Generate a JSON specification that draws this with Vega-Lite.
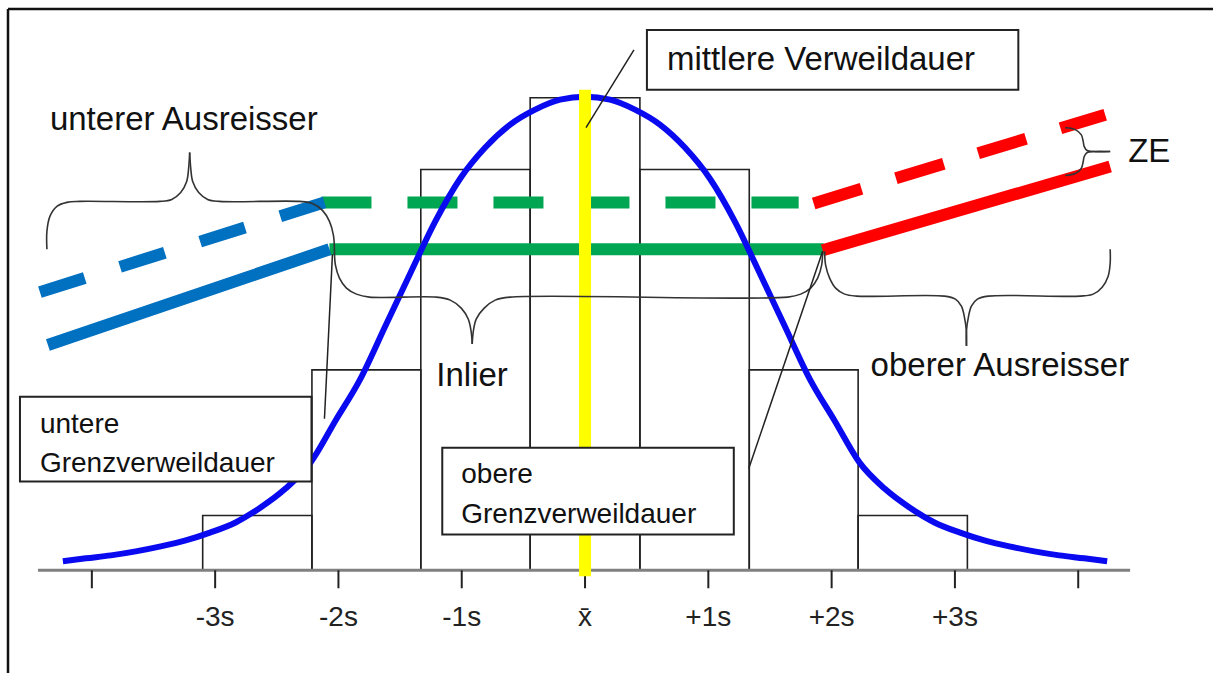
{
  "$schema": "https://vega.github.io/schema/vega-lite/v6.json",
  "width": 1215,
  "height": 675,
  "autosize": {"type": "fit", "contains": "padding"},
  "padding": 0,
  "background": "white",
  "config": {"view": {"stroke": null}},
  "datasets": {
    "frame": [
      {"u": -4.680, "h": 563, "u2": -4.680, "h2": -103},
      {"u": -4.680, "h": 563, "u2": 5.0931, "h2": 563}
    ],
    "bars": [
      {"u": -3.101, "u2": -2.215, "h": 0, "h2": 55},
      {"u": -2.215, "u2": -1.332, "h": 0, "h2": 201},
      {"u": -1.332, "u2": -0.445, "h": 0, "h2": 402},
      {"u": -0.445, "u2": 0.445, "h": 0, "h2": 474},
      {"u": 0.445, "u2": 1.332, "h": 0, "h2": 402},
      {"u": 1.332, "u2": 2.215, "h": 0, "h2": 201},
      {"u": 2.215, "u2": 3.101, "h": 0, "h2": 55}
    ],
    "axisline": [{"u": -4.437, "h": 0, "u2": 4.421, "h2": 0}],
    "ticks": [
      {"u": -4, "h": 0, "u2": -4, "h2": -18},
      {"u": -3, "h": 0, "u2": -3, "h2": -18},
      {"u": -2, "h": 0, "u2": -2, "h2": -18},
      {"u": -1, "h": 0, "u2": -1, "h2": -18},
      {"u": 0, "h": 0, "u2": 0, "h2": -18},
      {"u": 1, "h": 0, "u2": 1, "h2": -18},
      {"u": 2, "h": 0, "u2": 2, "h2": -18},
      {"u": 3, "h": 0, "u2": 3, "h2": -18},
      {"u": 4, "h": 0, "u2": 4, "h2": -18}
    ],
    "ticklabels": [
      {"u": -3, "h": -56, "label": "-3s"},
      {"u": -2, "h": -56, "label": "-2s"},
      {"u": -1, "h": -56, "label": "-1s"},
      {"u": 0, "h": -56, "label": "x̄"},
      {"u": 1, "h": -56, "label": "+1s"},
      {"u": 2, "h": -56, "label": "+2s"},
      {"u": 3, "h": -56, "label": "+3s"}
    ],
    "greenSolid": [{"u": -2.0729, "h": 322, "u2": 1.9352, "h2": 322}],
    "greenDashed": [{"u": -2.1377, "h": 369, "u2": 1.7328, "h2": 369}],
    "curve": [
      {"u": -4.2348, "h": 9}, {"u": -4.0486, "h": 12}, {"u": -3.8462, "h": 15}, {"u": -3.6437, "h": 19},
      {"u": -3.4413, "h": 24}, {"u": -3.2389, "h": 30}, {"u": -3.0364, "h": 38}, {"u": -2.8340, "h": 48},
      {"u": -2.6316, "h": 63}, {"u": -2.4291, "h": 82}, {"u": -2.2267, "h": 108}, {"u": -2.0243, "h": 150},
      {"u": -1.8219, "h": 192}, {"u": -1.6194, "h": 245}, {"u": -1.4170, "h": 298}, {"u": -1.2146, "h": 350},
      {"u": -1.0121, "h": 393}, {"u": -0.8097, "h": 424}, {"u": -0.6073, "h": 447}, {"u": -0.4049, "h": 462},
      {"u": -0.2024, "h": 472}, {"u": 0, "h": 475},
      {"u": 0.2024, "h": 472}, {"u": 0.4049, "h": 462}, {"u": 0.6073, "h": 447}, {"u": 0.8097, "h": 424},
      {"u": 1.0121, "h": 393}, {"u": 1.2146, "h": 350}, {"u": 1.4170, "h": 298}, {"u": 1.6194, "h": 245},
      {"u": 1.8219, "h": 192}, {"u": 2.0243, "h": 150}, {"u": 2.2267, "h": 108}, {"u": 2.4291, "h": 82},
      {"u": 2.6316, "h": 63}, {"u": 2.8340, "h": 48}, {"u": 3.0364, "h": 38}, {"u": 3.2389, "h": 30},
      {"u": 3.4413, "h": 24}, {"u": 3.6437, "h": 19}, {"u": 3.8462, "h": 15}, {"u": 4.0486, "h": 12},
      {"u": 4.2348, "h": 9}
    ],
    "yellow": [{"u": 0, "h": 482, "u2": 0, "h2": -6}],
    "blueSolid": [{"u": -4.3563, "h": 226, "u2": -2.0729, "h2": 322}],
    "blueDashed": [{"u": -4.4211, "h": 279, "u2": -2.1134, "h2": 369}],
    "redSolid": [{"u": 1.9271, "h": 321, "u2": 4.2591, "h2": 405}],
    "redDashed": [{"u": 1.8543, "h": 368, "u2": 4.2186, "h2": 457}],
    "braces": [
      {"id": "b1L", "i": 0, "u": -4.3644, "h": 322}, {"id": "b1L", "i": 1, "u": -4.3644, "h": 340},
      {"id": "b1L", "i": 2, "u": -4.3401, "h": 355}, {"id": "b1L", "i": 3, "u": -4.2834, "h": 365},
      {"id": "b1L", "i": 4, "u": -4.2024, "h": 369}, {"id": "b1L", "i": 5, "u": -4.0972, "h": 370},
      {"id": "b1L", "i": 6, "u": -3.4494, "h": 370}, {"id": "b1L", "i": 7, "u": -3.3522, "h": 372},
      {"id": "b1L", "i": 8, "u": -3.2794, "h": 379}, {"id": "b1L", "i": 9, "u": -3.2308, "h": 390},
      {"id": "b1L", "i": 10, "u": -3.2146, "h": 404}, {"id": "b1L", "i": 11, "u": -3.2065, "h": 419},
      {"id": "b1R", "i": 0, "u": -2.0324, "h": 320}, {"id": "b1R", "i": 1, "u": -2.0405, "h": 336},
      {"id": "b1R", "i": 2, "u": -2.0729, "h": 350}, {"id": "b1R", "i": 3, "u": -2.1296, "h": 361},
      {"id": "b1R", "i": 4, "u": -2.2105, "h": 368}, {"id": "b1R", "i": 5, "u": -2.3158, "h": 370},
      {"id": "b1R", "i": 6, "u": -2.9636, "h": 370}, {"id": "b1R", "i": 7, "u": -3.0607, "h": 372},
      {"id": "b1R", "i": 8, "u": -3.1336, "h": 379}, {"id": "b1R", "i": 9, "u": -3.1822, "h": 390},
      {"id": "b1R", "i": 10, "u": -3.1984, "h": 404}, {"id": "b1R", "i": 11, "u": -3.2065, "h": 419},
      {"id": "b2L", "i": 0, "u": -2.0324, "h": 320}, {"id": "b2L", "i": 1, "u": -2.0243, "h": 306},
      {"id": "b2L", "i": 2, "u": -1.9919, "h": 293}, {"id": "b2L", "i": 3, "u": -1.9352, "h": 283},
      {"id": "b2L", "i": 4, "u": -1.8543, "h": 277}, {"id": "b2L", "i": 5, "u": -1.7490, "h": 274},
      {"id": "b2L", "i": 6, "u": -1.2065, "h": 274}, {"id": "b2L", "i": 7, "u": -1.0931, "h": 271},
      {"id": "b2L", "i": 8, "u": -1.0040, "h": 263}, {"id": "b2L", "i": 9, "u": -0.9474, "h": 252},
      {"id": "b2L", "i": 10, "u": -0.9231, "h": 239}, {"id": "b2L", "i": 11, "u": -0.9150, "h": 227},
      {"id": "b2R", "i": 0, "u": 1.9271, "h": 320}, {"id": "b2R", "i": 1, "u": 1.9190, "h": 306},
      {"id": "b2R", "i": 2, "u": 1.8866, "h": 293}, {"id": "b2R", "i": 3, "u": 1.8300, "h": 283},
      {"id": "b2R", "i": 4, "u": 1.7490, "h": 277}, {"id": "b2R", "i": 5, "u": 1.6437, "h": 274},
      {"id": "b2R", "i": 6, "u": -0.6073, "h": 274}, {"id": "b2R", "i": 7, "u": -0.7287, "h": 271},
      {"id": "b2R", "i": 8, "u": -0.8178, "h": 263}, {"id": "b2R", "i": 9, "u": -0.8826, "h": 252},
      {"id": "b2R", "i": 10, "u": -0.9069, "h": 239}, {"id": "b2R", "i": 11, "u": -0.9150, "h": 227},
      {"id": "b3L", "i": 0, "u": 1.9433, "h": 320}, {"id": "b3L", "i": 1, "u": 1.9514, "h": 306},
      {"id": "b3L", "i": 2, "u": 1.9838, "h": 293}, {"id": "b3L", "i": 3, "u": 2.0324, "h": 283},
      {"id": "b3L", "i": 4, "u": 2.1053, "h": 277}, {"id": "b3L", "i": 5, "u": 2.2024, "h": 275},
      {"id": "b3L", "i": 6, "u": 2.9150, "h": 275}, {"id": "b3L", "i": 7, "u": 3.0040, "h": 272},
      {"id": "b3L", "i": 8, "u": 3.0526, "h": 265}, {"id": "b3L", "i": 9, "u": 3.0769, "h": 254},
      {"id": "b3L", "i": 10, "u": 3.0931, "h": 240}, {"id": "b3L", "i": 11, "u": 3.0935, "h": 225},
      {"id": "b3R", "i": 0, "u": 4.2591, "h": 322}, {"id": "b3R", "i": 1, "u": 4.2591, "h": 308},
      {"id": "b3R", "i": 2, "u": 4.2429, "h": 295}, {"id": "b3R", "i": 3, "u": 4.1943, "h": 284},
      {"id": "b3R", "i": 4, "u": 4.1215, "h": 277}, {"id": "b3R", "i": 5, "u": 4.0162, "h": 275},
      {"id": "b3R", "i": 6, "u": 3.2713, "h": 275}, {"id": "b3R", "i": 7, "u": 3.1822, "h": 272},
      {"id": "b3R", "i": 8, "u": 3.1336, "h": 265}, {"id": "b3R", "i": 9, "u": 3.1093, "h": 254},
      {"id": "b3R", "i": 10, "u": 3.0931, "h": 240}, {"id": "b3R", "i": 11, "u": 3.0935, "h": 225},
      {"id": "zeT", "i": 0, "u": 3.8947, "h": 444}, {"id": "zeT", "i": 1, "u": 3.9757, "h": 442},
      {"id": "zeT", "i": 2, "u": 4.0243, "h": 437}, {"id": "zeT", "i": 3, "u": 4.0405, "h": 430},
      {"id": "zeT", "i": 4, "u": 4.0486, "h": 425}, {"id": "zeT", "i": 5, "u": 4.0729, "h": 421},
      {"id": "zeT", "i": 6, "u": 4.1215, "h": 420}, {"id": "zeT", "i": 7, "u": 4.2591, "h": 420},
      {"id": "zeB", "i": 0, "u": 3.8947, "h": 396}, {"id": "zeB", "i": 1, "u": 3.9757, "h": 398},
      {"id": "zeB", "i": 2, "u": 4.0243, "h": 403}, {"id": "zeB", "i": 3, "u": 4.0405, "h": 410},
      {"id": "zeB", "i": 4, "u": 4.0486, "h": 415}, {"id": "zeB", "i": 5, "u": 4.0729, "h": 419},
      {"id": "zeB", "i": 6, "u": 4.1215, "h": 420}, {"id": "zeB", "i": 7, "u": 4.2591, "h": 420}
    ],
    "boxes": [
      {"u": 0.5020, "u2": 3.5142, "h": 542, "h2": 482},
      {"u": -4.5830, "u2": -2.2186, "h": 174, "h2": 89},
      {"u": -1.1579, "u2": 1.2065, "h": 123, "h2": 36}
    ],
    "callouts": [
      {"u": 0.3968, "h": 522, "u2": 0.0081, "h2": 444},
      {"u": -2.1134, "h": 152, "u2": -2.0486, "h2": 317},
      {"u": 1.3279, "h": 102, "u2": 1.9271, "h2": 320}
    ],
    "bigText": [
      {"u": -4.3401, "h": 442, "label": "unterer Ausreisser"},
      {"u": 0.6640, "h": 502, "label": "mittlere Verweildauer"},
      {"u": 4.4049, "h": 410, "label": "ZE"},
      {"u": -1.2065, "h": 185, "label": "Inlier"},
      {"u": 2.3158, "h": 195, "label": "oberer Ausreisser"}
    ],
    "boxText": [
      {"u": -4.4211, "h": 138, "label": "untere"},
      {"u": -4.4211, "h": 99, "label": "Grenzverweildauer"},
      {"u": -1.0040, "h": 88, "label": "obere"},
      {"u": -1.0040, "h": 47, "label": "Grenzverweildauer"}
    ]
  },
  "encoding": {
    "x": {"field": "u", "type": "quantitative", "scale": {"domain": [-4.7449, 5.0931], "nice": false, "zero": false}, "axis": null},
    "y": {"field": "h", "type": "quantitative", "scale": {"domain": [-103, 572], "nice": false, "zero": false}, "axis": null}
  },
  "layer": [
    {"data": {"name": "frame"}, "mark": {"type": "rule", "color": "#111111", "strokeWidth": 2.5}, "encoding": {"x2": {"field": "u2"}, "y2": {"field": "h2"}}},
    {"data": {"name": "bars"}, "mark": {"type": "rect", "filled": false, "color": "#222222", "strokeWidth": 1.6}, "encoding": {"x2": {"field": "u2"}, "y2": {"field": "h2"}}},
    {"data": {"name": "axisline"}, "mark": {"type": "rule", "color": "#808080", "strokeWidth": 3}, "encoding": {"x2": {"field": "u2"}, "y2": {"field": "h2"}}},
    {"data": {"name": "ticks"}, "mark": {"type": "rule", "color": "#222222", "strokeWidth": 2}, "encoding": {"x2": {"field": "u2"}, "y2": {"field": "h2"}}},
    {"data": {"name": "greenDashed"}, "mark": {"type": "rule", "color": "#00a651", "strokeWidth": 12, "strokeDash": [50, 36]}, "encoding": {"x2": {"field": "u2"}, "y2": {"field": "h2"}}},
    {"data": {"name": "greenSolid"}, "mark": {"type": "rule", "color": "#00a651", "strokeWidth": 12}, "encoding": {"x2": {"field": "u2"}, "y2": {"field": "h2"}}},
    {"data": {"name": "curve"}, "mark": {"type": "line", "interpolate": "monotone", "color": "#0a0af0", "strokeWidth": 6}, "encoding": {}},
    {"data": {"name": "yellow"}, "mark": {"type": "rule", "color": "#ffff00", "strokeWidth": 12}, "encoding": {"x2": {"field": "u2"}, "y2": {"field": "h2"}}},
    {"data": {"name": "blueDashed"}, "mark": {"type": "rule", "color": "#0070c0", "strokeWidth": 12, "strokeDash": [47, 37]}, "encoding": {"x2": {"field": "u2"}, "y2": {"field": "h2"}}},
    {"data": {"name": "blueSolid"}, "mark": {"type": "rule", "color": "#0070c0", "strokeWidth": 12}, "encoding": {"x2": {"field": "u2"}, "y2": {"field": "h2"}}},
    {"data": {"name": "redDashed"}, "mark": {"type": "rule", "color": "#ff0000", "strokeWidth": 12, "strokeDash": [50, 36]}, "encoding": {"x2": {"field": "u2"}, "y2": {"field": "h2"}}},
    {"data": {"name": "redSolid"}, "mark": {"type": "rule", "color": "#ff0000", "strokeWidth": 12}, "encoding": {"x2": {"field": "u2"}, "y2": {"field": "h2"}}},
    {"data": {"name": "braces"}, "mark": {"type": "line", "interpolate": "catmull-rom", "color": "#333333", "strokeWidth": 1.6}, "encoding": {"detail": {"field": "id"}, "order": {"field": "i", "type": "quantitative"}}},
    {"data": {"name": "boxes"}, "mark": {"type": "rect", "fill": "white", "stroke": "#222222", "strokeWidth": 2}, "encoding": {"x2": {"field": "u2"}, "y2": {"field": "h2"}}},
    {"data": {"name": "callouts"}, "mark": {"type": "rule", "color": "#222222", "strokeWidth": 1.5}, "encoding": {"x2": {"field": "u2"}, "y2": {"field": "h2"}}},
    {"data": {"name": "bigText"}, "mark": {"type": "text", "font": "Liberation Sans", "fontSize": 33, "align": "left", "baseline": "alphabetic", "color": "#111111"}, "encoding": {"text": {"field": "label"}}},
    {"data": {"name": "boxText"}, "mark": {"type": "text", "font": "Liberation Sans", "fontSize": 28, "align": "left", "baseline": "alphabetic", "color": "#111111"}, "encoding": {"text": {"field": "label"}}},
    {"data": {"name": "ticklabels"}, "mark": {"type": "text", "font": "Liberation Sans", "fontSize": 28, "align": "center", "baseline": "alphabetic", "color": "#222222"}, "encoding": {"text": {"field": "label"}}}
  ]
}
